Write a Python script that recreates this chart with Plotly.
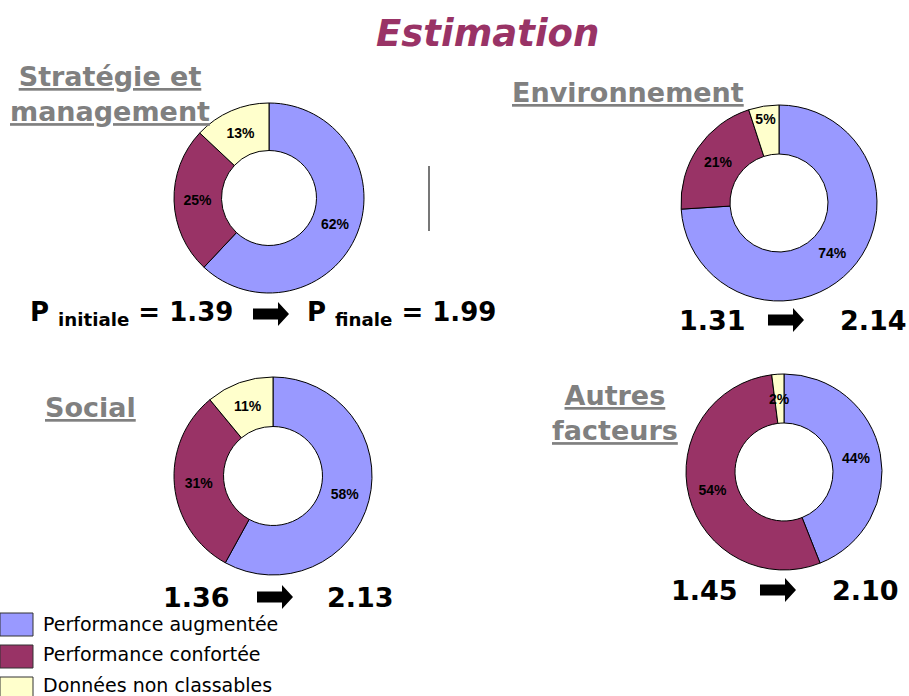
import math
import plotly.graph_objects as go

# ---- data -------------------------------------------------------------
categories = ["Performance augmentée", "Performance confortée", "Données non classables"]
colors = ["#9999FF", "#993366", "#FFFFCC"]

domain_titles = ["Stratégie et<br>management", "Environnement", "Social", "Autres<br>facteurs"]
share_strategie = [62, 25, 13]
share_environnement = [74, 21, 5]
share_social = [58, 31, 11]
share_autres = [44, 54, 2]
p_initiale = [1.39, 1.31, 1.36, 1.45]
p_finale = [1.99, 2.14, 2.13, 2.10]

shares = [share_strategie, share_environnement, share_social, share_autres]

# ---- page geometry (pixels) ------------------------------------------
W, H = 909, 696
HOLE = 0.5
# donut centre (x, y from top) and outer radius
donut_geom = [(269, 198, 95), (779, 203, 98), (273, 476, 99), (784, 472, 98)]
SMALL_SLICE = 3  # slices under this share get their label placed on the ring


def px(x):
    return x / W


def py(y):
    return 1 - y / H


PCT_FONT = dict(family="Liberation Sans", size=14, color="#000000", weight="bold")

fig = go.Figure()
annotations = []
shapes = []

for vals, (cx, cy, r) in zip(shares, donut_geom):
    texts = ["" if v < SMALL_SLICE else "%d%%" % v for v in vals]
    fig.add_trace(go.Pie(
        labels=categories,
        values=vals,
        text=texts,
        sort=False,
        direction="clockwise",
        rotation=0,
        hole=HOLE,
        marker=dict(colors=colors, line=dict(color="#000000", width=1)),
        textinfo="text",
        textposition="inside",
        insidetextorientation="horizontal",
        textfont=PCT_FONT,
        hoverinfo="label+percent",
        showlegend=False,
        domain=dict(x=[px(cx - r), px(cx + r)], y=[py(cy + r), py(cy - r)]),
    ))
    # labels of very thin slices are written on the ring, overflowing the slice
    total = float(sum(vals))
    cum = 0.0
    rm = r * (1 + HOLE) / 2
    for v in vals:
        if v < SMALL_SLICE:
            a = math.radians((cum + v / 2) / total * 360)
            annotations.append(dict(
                text="%d%%" % v, x=px(cx + rm * math.sin(a)), y=py(cy - rm * math.cos(a)),
                xref="paper", yref="paper", showarrow=False,
                xanchor="center", yanchor="middle", font=PCT_FONT,
            ))
        cum += v

# main title
annotations.append(dict(
    text="<b><i>Estimation</i></b>", x=px(487), y=py(33), xref="paper", yref="paper",
    showarrow=False, xanchor="center", yanchor="middle",
    font=dict(family="DejaVu Sans", size=37, color="#993366"),
))

# section titles
title_pos = [(110, 94), (628, 92), (90, 408), (615, 413)]
for t, (x, y) in zip(domain_titles, title_pos):
    lines = "<br>".join("<u>%s</u>" % s for s in t.split("<br>"))
    annotations.append(dict(
        text="<b>%s</b>" % lines, x=px(x), y=py(y), xref="paper", yref="paper",
        showarrow=False, xanchor="center", yanchor="middle", align="center",
        font=dict(family="DejaVu Sans", size=27, color="#808080"),
    ))

NUM_FONT = dict(family="DejaVu Sans", size=27, color="#000000")


def block_arrow(x0, yc):
    """Solid right-pointing arrow, left end at x0, centred on yc (pixels)."""
    pts = [(x0, yc - 5.5), (x0 + 25, yc - 5.5), (x0 + 25, yc - 12), (x0 + 36, yc),
           (x0 + 25, yc + 12), (x0 + 25, yc + 5.5), (x0, yc + 5.5)]
    path = "M " + " L ".join("%.5f,%.5f" % (px(a), py(b)) for a, b in pts) + " Z"
    return dict(type="path", path=path, xref="paper", yref="paper",
                fillcolor="#000000", line=dict(color="#000000", width=0))


# index rows: (left value right edge, arrow left x, right value left x, y centre)
value_rows = [
    (235, 253, 305, 314),
    (748, 768, 838, 320),
    (232, 257, 325, 597),
    (740, 760, 830, 590),
]
for i, (xl, xa, xr, yc) in enumerate(value_rows):
    font = NUM_FONT
    if i == 0:
        left = "<b>P <sub>initiale</sub> = %.2f</b>" % p_initiale[i]
        right = "<b>P <sub>finale</sub> = %.2f</b>" % p_finale[i]
        font = dict(NUM_FONT, size=26)
    else:
        left = "<b>%.2f</b>" % p_initiale[i]
        right = "<b>%.2f</b>" % p_finale[i]
    annotations.append(dict(text=left, x=px(xl), y=py(yc), xref="paper", yref="paper",
                            showarrow=False, xanchor="right", yanchor="middle", font=font))
    annotations.append(dict(text=right, x=px(xr), y=py(yc), xref="paper", yref="paper",
                            showarrow=False, xanchor="left", yanchor="middle", font=font))
    shapes.append(block_arrow(xa, yc))

# thin separator line
shapes.append(dict(type="line", xref="paper", yref="paper",
                   x0=px(429), x1=px(429), y0=py(166), y1=py(231),
                   line=dict(color="#777777", width=2)))

# legend drawn as swatches + labels
for k, (lab, col) in enumerate(zip(categories, colors)):
    top = 613 + 32 * k
    shapes.append(dict(type="rect", xref="paper", yref="paper",
                       x0=px(0), x1=px(33), y0=py(top + 23), y1=py(top),
                       fillcolor=col, line=dict(color="#333333", width=1)))
    annotations.append(dict(text=lab, x=px(41), y=py(top + 10.5 - 1.5 * k), xref="paper", yref="paper",
                            showarrow=False, xanchor="left", yanchor="middle",
                            font=dict(family="DejaVu Sans", size=19, color="#000000")))

fig.update_layout(
    width=W, height=H,
    margin=dict(l=0, r=0, t=0, b=0),
    paper_bgcolor="#FFFFFF",
    plot_bgcolor="#FFFFFF",
    annotations=annotations,
    shapes=shapes,
)

fig.write_html("out.html")
